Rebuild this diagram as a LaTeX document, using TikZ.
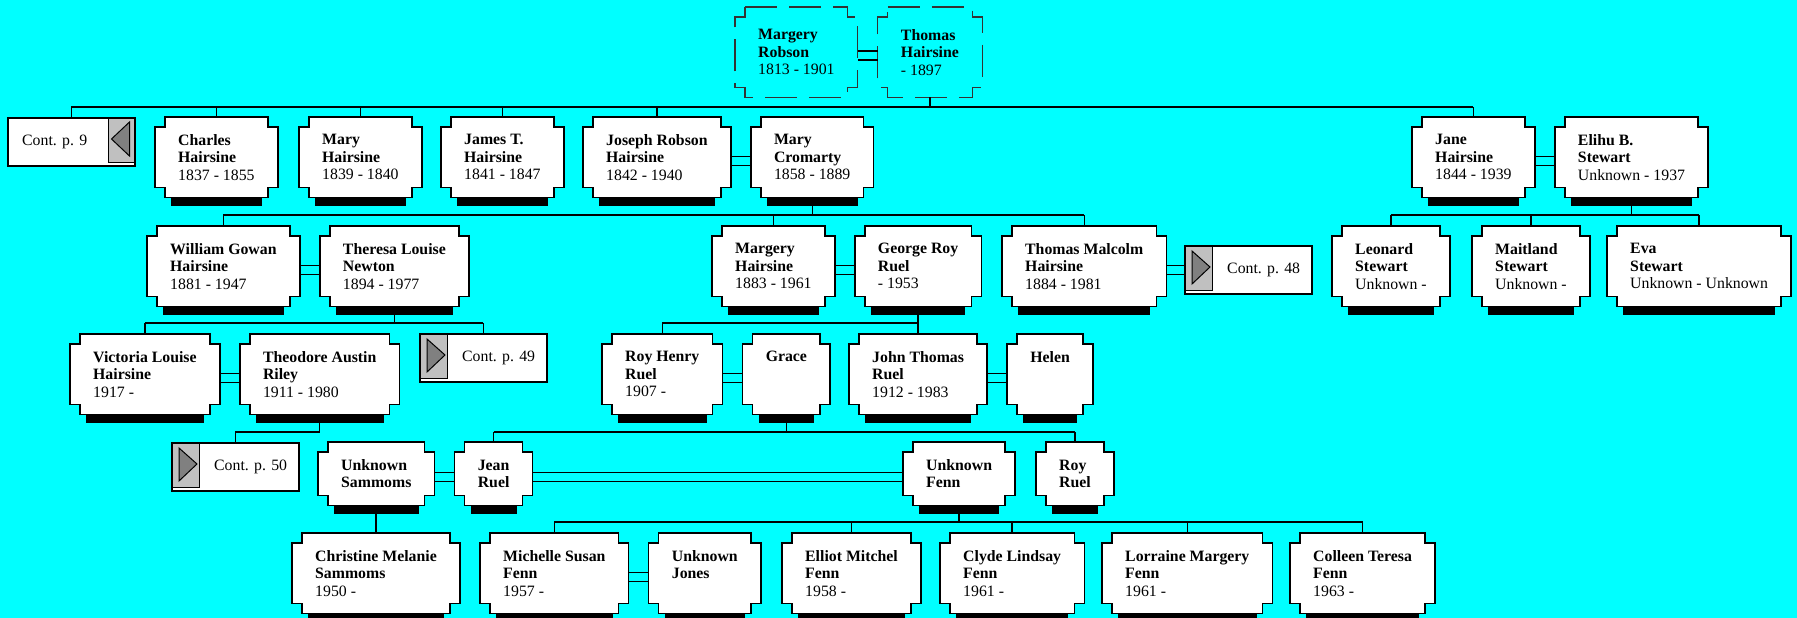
\documentclass[tikz,border=0pt]{standalone}
\usepackage{fontspec}
\setmainfont{Liberation Serif}
\usetikzlibrary{positioning}
\pgfdeclarelayer{back}
\pgfdeclarelayer{background}
\pgfsetlayers{back,background,main}
\definecolor{sky}{HTML}{00FFFF}
\definecolor{buttongray}{HTML}{C0C0C0}
\definecolor{arrowgray}{HTML}{808080}
\tikzset{
  person/.style={anchor=north west, align=left, inner xsep=23pt, inner ysep=0pt, minimum height=80pt, font=\fontsize{15.8}{17.5}\selectfont},
  short person/.style={person, minimum height=63pt},
  ghost person/.style={person, minimum height=90pt},
  cont/.style={draw, line width=1.5pt, fill=white, anchor=north west, minimum width=127pt, minimum height=48pt, inner sep=0pt},
  cont text/.style={anchor=west, inner sep=0pt, font=\fontsize{15.8}{17.5}\selectfont}
  }
\tikzstyle{edge} = [draw, line width=1.4pt]
\tikzstyle{box edge} = [draw, line width=1.6pt, fill=white]
\tikzstyle{ghost edge} = [draw=black!80, line width=1.2pt, dash pattern=on 32pt off 12pt]
\tikzstyle{button} = [draw, line width=0.8pt, fill=buttongray]
\tikzstyle{pointer} = [draw, line width=1pt, fill=arrowgray]

\newcommand\entry[3]{\textbf{#1}\\\textbf{#2}\\#3}
\newcommand\notchbox[2][box edge]{%
  \begin{pgfonlayer}{background}
    \path[#1] ([xshift=10pt]#2.north west) -- ([xshift=-10pt]#2.north east) -- ++(0pt,-10pt) -- ++(10pt,0pt)
      -- ([yshift=10pt]#2.south east) -- ++(-10pt,0pt) -- ++(0pt,-10pt)
      -- ([xshift=10pt]#2.south west) -- ++(0pt,10pt) -- ++(-10pt,0pt)
      -- ([yshift=-10pt]#2.north west) -- ++(10pt,0pt) -- cycle;
  \end{pgfonlayer}}
\newcommand\dropshadow[1]{%
  \begin{pgfonlayer}{background}
    \fill ([xshift=16pt]#1.south west) rectangle ([xshift=-16pt,yshift=-9pt]#1.south east);
  \end{pgfonlayer}}
\newcommand\marry[2]{%
  \draw[edge] ([yshift=1pt]#1.east) -- ([yshift=1pt]#1.east -| #2.west);
  \draw[edge] ([yshift=-8pt]#1.east) -- ([yshift=-8pt]#1.east -| #2.west);}
\newcommand\backbutton[1]{%
  \draw[button] ([shift={(-1pt,-1pt)}]#1.north east) rectangle ([shift={(-27pt,4pt)}]#1.south east);
  \draw[pointer] ([shift={(-24pt,-22pt)}]#1.north east) -- ([shift={(-6pt,-5pt)}]#1.north east) -- ([shift={(-6pt,-39pt)}]#1.north east) -- cycle;}
\newcommand\nextbutton[1]{%
  \draw[button] ([shift={(1pt,-1pt)}]#1.north west) rectangle ([shift={(28pt,4pt)}]#1.south west);
  \draw[pointer] ([shift={(8pt,-6pt)}]#1.north west) -- ([shift={(26pt,-22pt)}]#1.north west) -- ([shift={(8pt,-39pt)}]#1.north west) -- cycle;}

\begin{document}
\begin{tikzpicture}[x=1pt, y=-1pt]
    \useasboundingbox (0,0) rectangle (1797,618);
    \begin{pgfonlayer}{back}
      \fill[sky] (0,0) rectangle (1797,618);
    \end{pgfonlayer}

    % generation 1
    \node[ghost person] (mrobson) at (735,7) {\entry{Margery}{Robson}{1813 - 1901}};
    \node[ghost person, right=20pt of mrobson] (thomash) {\entry{Thomas}{Hairsine}{- 1897}};

    % generation 2
    \node[cont, label={[cont text, xshift=15pt]west:Cont. p. 9}] (cont9) at (7,117) {};
    \node[person] (charles) at (155,117) {\entry{Charles}{Hairsine}{1837 - 1855}};
    \node[person] (maryh) at (299,117) {\entry{Mary}{Hairsine}{1839 - 1840}};
    \node[person] (james) at (441,117) {\entry{James T.}{Hairsine}{1841 - 1847}};
    \node[person] (joseph) at (583,117) {\entry{Joseph Robson}{Hairsine}{1842 - 1940}};
    \node[person, right=20pt of joseph] (marycrom) {\entry{Mary}{Cromarty}{1858 - 1889}};
    \node[person] (jane) at (1412,117) {\entry{Jane}{Hairsine}{1844 - 1939}};
    \node[person, right=20pt of jane] (elihu) {\entry{Elihu B.}{Stewart}{Unknown - 1937}};

    % generation 3
    \node[person] (william) at (147,226) {\entry{William Gowan}{Hairsine}{1881 - 1947}};
    \node[person, right=20pt of william] (theresa) {\entry{Theresa Louise}{Newton}{1894 - 1977}};
    \node[person] (margeryh) at (712,226) {\entry{Margery}{Hairsine}{1883 - 1961}};
    \node[person, right=20pt of margeryh] (george) {\entry{George Roy}{Ruel}{- 1953}};
    \node[person] (thomasm) at (1002,226) {\entry{Thomas Malcolm}{Hairsine}{1884 - 1981}};
    \node[cont, label={[cont text, xshift=43pt]west:Cont. p. 48}] (cont48) at (1184,245) {};
    \node[person] (leonard) at (1332,226) {\entry{Leonard}{Stewart}{Unknown -}};
    \node[person] (maitland) at (1472,226) {\entry{Maitland}{Stewart}{Unknown -}};
    \node[person] (eva) at (1607,226) {\entry{Eva}{Stewart}{Unknown - Unknown}};

    % generation 4
    \node[person] (victoria) at (70,334) {\entry{Victoria Louise}{Hairsine}{1917 -}};
    \node[person, right=20pt of victoria] (theodore) {\entry{Theodore Austin}{Riley}{1911 - 1980}};
    \node[cont, label={[cont text, xshift=43pt]west:Cont. p. 49}] (cont49) at (419,333) {};
    \node[person] (royhenry) at (602,334) {\entry{Roy Henry}{Ruel}{1907 -}};
    \node[person, right=20pt of royhenry] (grace) {\textbf{Grace}\\~\\~};
    \node[person] (johnt) at (849,334) {\entry{John Thomas}{Ruel}{1912 - 1983}};
    \node[person, right=20pt of johnt] (helen) {\textbf{Helen}\\~\\~};

    % generation 5
    \node[cont, label={[cont text, xshift=43pt]west:Cont. p. 50}] (cont50) at (171,442) {};
    \node[short person] (sammoms) at (318,442) {\textbf{Unknown}\\\textbf{Sammoms}};
    \node[short person, right=20pt of sammoms] (jean) {\textbf{Jean}\\\textbf{Ruel}};
    \node[short person] (fenn) at (903,442) {\textbf{Unknown}\\\textbf{Fenn}};
    \node[short person] (royr) at (1036,442) {\textbf{Roy}\\\textbf{Ruel}};

    % generation 6
    \node[person] (christine) at (292,533) {\entry{Christine Melanie}{Sammoms}{1950 -}};
    \node[person] (michelle) at (480,533) {\entry{Michelle Susan}{Fenn}{1957 -}};
    \node[person, right=20pt of michelle] (jones) {\textbf{Unknown}\\\textbf{Jones}\\~};
    \node[person] (elliot) at (782,533) {\entry{Elliot Mitchel}{Fenn}{1958 -}};
    \node[person] (clyde) at (940,533) {\entry{Clyde Lindsay}{Fenn}{1961 -}};
    \node[person] (lorraine) at (1102,533) {\entry{Lorraine Margery}{Fenn}{1961 -}};
    \node[person] (colleen) at (1290,533) {\entry{Colleen Teresa}{Fenn}{1963 -}};

    \foreach \who in {charles, maryh, james, joseph, marycrom, jane, elihu, william, theresa, margeryh, george, thomasm, leonard, maitland, eva, victoria, theodore, royhenry, grace, johnt, helen, sammoms, jean, fenn, royr, christine, michelle, jones, elliot, clyde, lorraine, colleen}
      {\dropshadow{\who}\notchbox{\who}}
    \notchbox[ghost edge]{mrobson}
    \notchbox[ghost edge]{thomash}

    \backbutton{cont9}
    \foreach \page in {cont48, cont49, cont50}
      {\nextbutton{\page}}

    \foreach \spouse/\partner in {mrobson/thomash, joseph/marycrom, jane/elihu, william/theresa, margeryh/george, thomasm/cont48, victoria/theodore, royhenry/grace, johnt/helen, sammoms/jean, jean/fenn, michelle/jones}
      {\marry{\spouse}{\partner}}

    \coordinate (bar1) at (0,107);
    \coordinate (bar2) at (0,215);
    \coordinate (bar3) at (0,323);
    \coordinate (bar4) at (0,432);
    \coordinate (bar5) at (0,522);

    \draw[edge] (thomash.south) -- (thomash.south |- bar1);
    \draw[edge] (cont9.north |- bar1) -- (jane.north |- bar1);
    \foreach \kid in {cont9, charles, maryh, james, joseph, jane}
      \draw[edge] (\kid.north) -- (\kid.north |- bar1);

    \draw[edge] (marycrom.south) -- (marycrom.south |- bar2);
    \draw[edge] (william.north |- bar2) -- (thomasm.north |- bar2);
    \draw[edge] (elihu.south) -- (elihu.south |- bar2);
    \draw[edge] (leonard.north |- bar2) -- (eva.north |- bar2);
    \foreach \kid in {william, margeryh, thomasm, leonard, maitland, eva}
      \draw[edge] (\kid.north) -- (\kid.north |- bar2);

    \draw[edge] (theresa.south) -- (theresa.south |- bar3);
    \draw[edge] (victoria.north |- bar3) -- (cont49.north |- bar3);
    \draw[edge] (george.south) -- (george.south |- bar3);
    \draw[edge] (royhenry.north |- bar3) -- (johnt.north |- bar3);
    \foreach \kid in {victoria, cont49, royhenry, johnt}
      \draw[edge] (\kid.north) -- (\kid.north |- bar3);

    \draw[edge] (theodore.south) -- (theodore.south |- bar4) -- (cont50.north |- bar4) -- (cont50.north);
    \draw[edge] (grace.south) -- (grace.south |- bar4);
    \draw[edge] (jean.north |- bar4) -- (royr.north |- bar4);
    \foreach \kid in {jean, royr}
      \draw[edge] (\kid.north) -- (\kid.north |- bar4);

    \draw[edge] (christine.north) -- (christine.north |- sammoms.south);
    \draw[edge] (fenn.south) -- (fenn.south |- bar5);
    \draw[edge] (michelle.north |- bar5) -- (colleen.north |- bar5);
    \foreach \kid in {michelle, elliot, clyde, lorraine, colleen}
      \draw[edge] (\kid.north) -- (\kid.north |- bar5);

\end{tikzpicture}
\end{document}
